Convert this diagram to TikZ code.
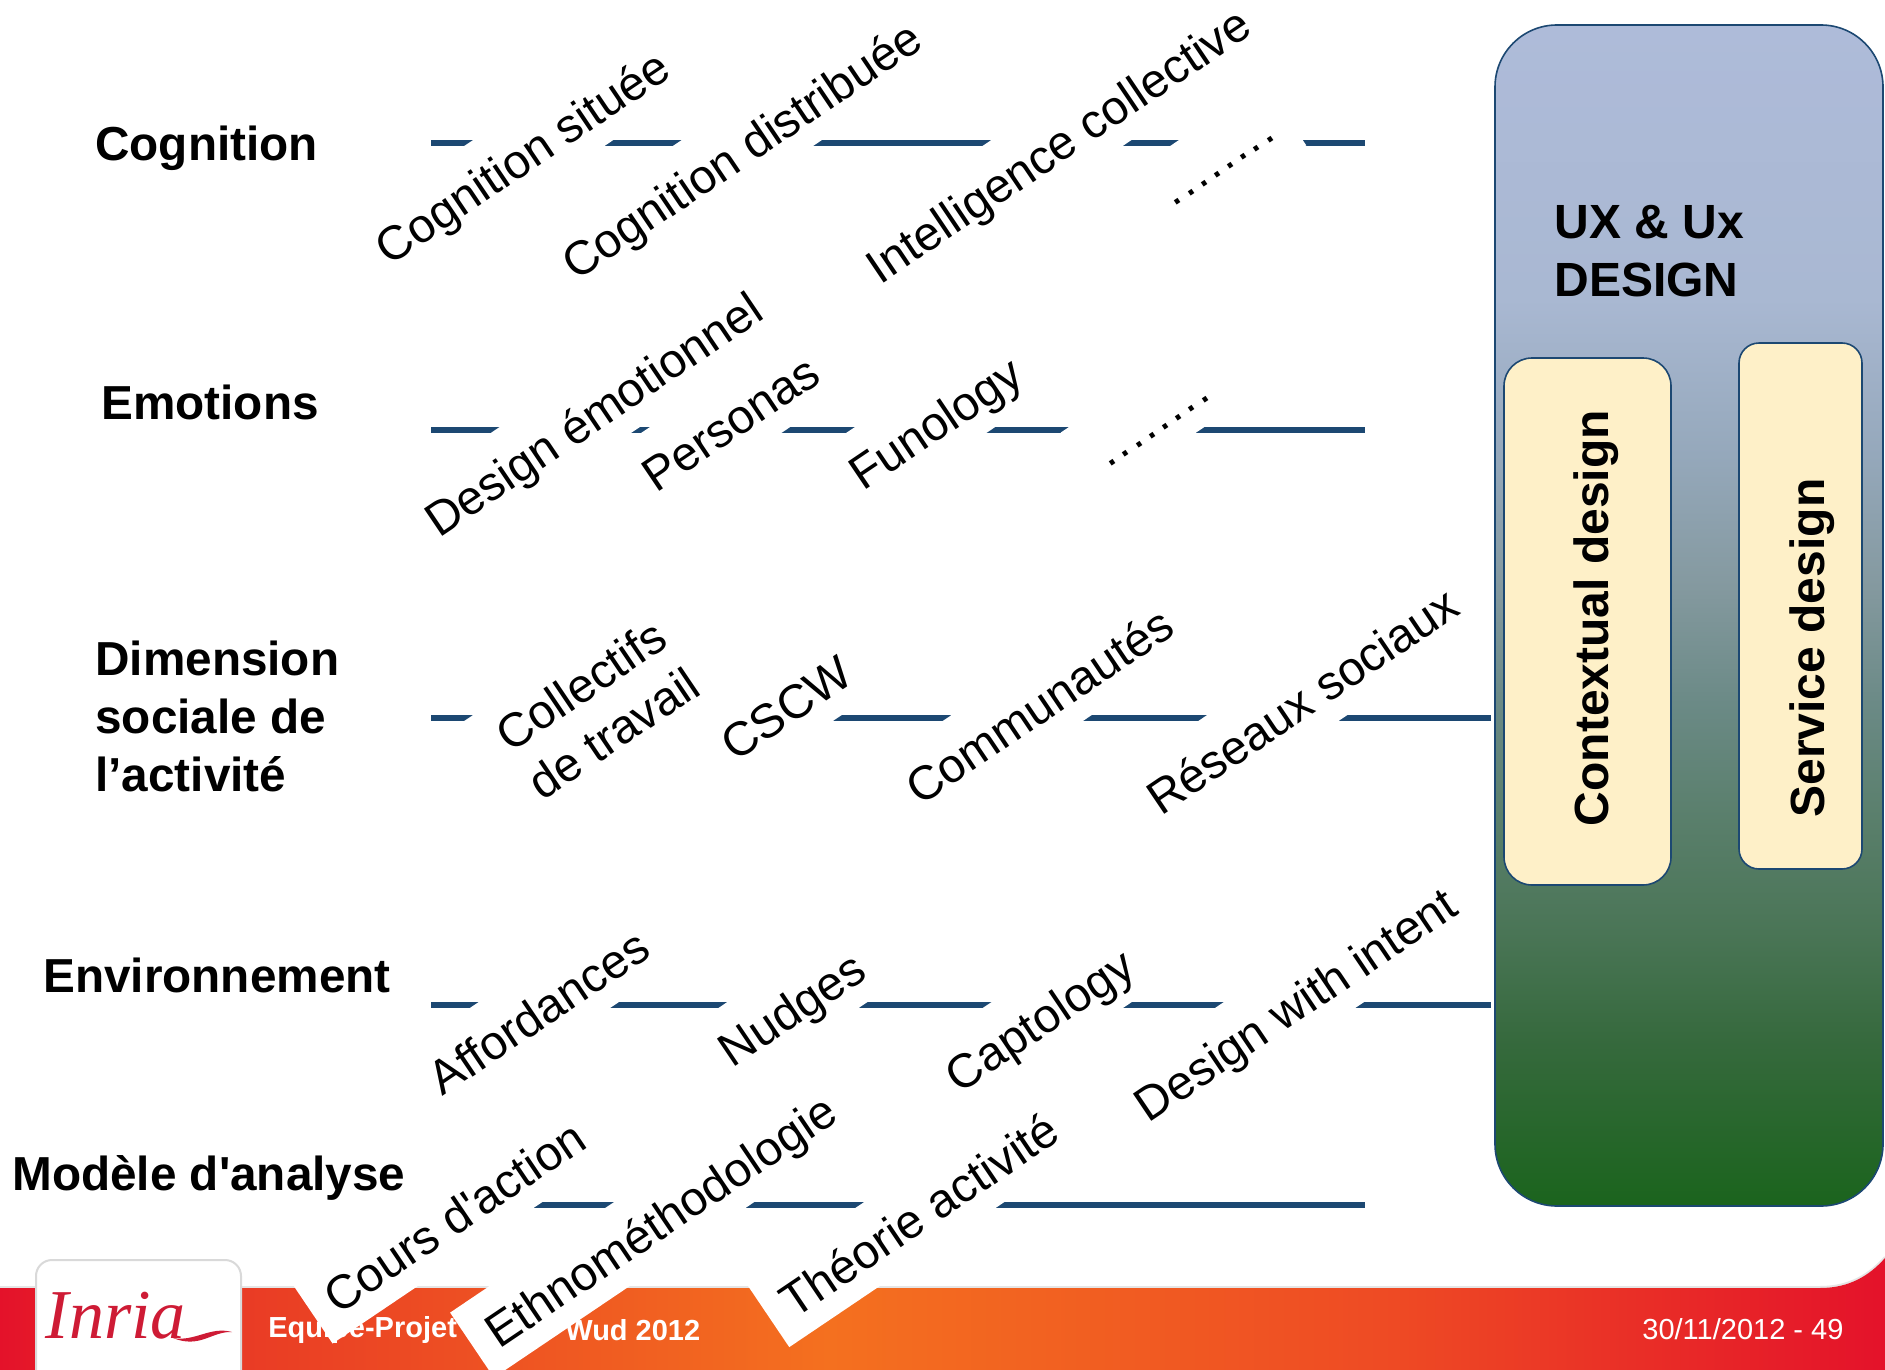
\documentclass[tikz,border=0pt]{standalone}
\usepackage{fontspec}
\setmainfont{Liberation Sans}
\newfontfamily\logofont{Liberation Serif}
\usetikzlibrary{shapes}
\definecolor{linecol}{HTML}{1C4872}
\definecolor{boxfill}{HTML}{FEF0C8}
\definecolor{logocol}{HTML}{CE1B35}
\definecolor{uxa}{HTML}{1B641D}
\definecolor{uxb}{HTML}{35693C}
\definecolor{uxc}{HTML}{4A7556}
\definecolor{uxd}{HTML}{5A7F6C}
\definecolor{uxe}{HTML}{6B8A86}
\definecolor{uxf}{HTML}{84999F}
\definecolor{uxg}{HTML}{95A8BB}
\definecolor{uxh}{HTML}{A9B8D2}
\definecolor{uxi}{HTML}{AEBBD9}
\definecolor{fta}{HTML}{E4122A}
\definecolor{ftb}{HTML}{E93A25}
\definecolor{ftc}{HTML}{F4701F}
\definecolor{ftd}{HTML}{EE4A24}
\pgfdeclareverticalshading{uxfade}{100bp}{color(0bp)=(uxa); color(25bp)=(uxa); color(31.8bp)=(uxb); color(36.6bp)=(uxc); color(41.5bp)=(uxd); color(46.3bp)=(uxe); color(51.2bp)=(uxf); color(56.8bp)=(uxg); color(63.4bp)=(uxh); color(75bp)=(uxi); color(100bp)=(uxi)}
\pgfdeclarehorizontalshading{footfade}{100bp}{color(0bp)=(fta); color(25bp)=(fta); color(31bp)=(ftb); color(47bp)=(ftc); color(62bp)=(ftd); color(75bp)=(fta); color(100bp)=(fta)}
\tikzset{rowline/.style={line width=3pt,linecol},
  titlelab/.style={anchor=west,inner sep=0pt,align=left,font=\fontsize{23.85}{29}\selectfont\bfseries},
  tagtwo/.style={fill=white,rotate=34,inner xsep=10pt,inner ysep=8.9pt,align=center,font=\fontsize{23.85}{29}\selectfont},
  tag/.style={tagtwo,inner ysep=2pt,text height=27.25pt,text depth=7.95pt},
  tagdots/.style={tagtwo,inner ysep=2pt,text height=24.5pt,text depth=9.3pt},
  inbox/.style={draw=linecol,line width=.8pt,fill=boxfill},
  sidelab/.style={rotate=90,inner sep=0pt,font=\fontsize{24}{29}\selectfont\bfseries},
  footlab/.style={anchor=west,inner sep=0pt,text=white,font=\fontsize{14.5}{17}\selectfont}}
\begin{document}
\begin{tikzpicture}[x=.5pt,y=-.5pt]
\useasboundingbox (0,0) rectangle (1885,1370);
\fill[white] (0,0) rectangle (1885,1370);
% bottom band
\draw[black!10,line width=1pt] (0,1287)--(1820,1287) .. controls (1850,1287) and (1870,1274) .. (1885,1257);
\shade[shading=footfade] (0,1288)--(1820,1288) .. controls (1850,1288) and (1870,1275) .. (1885,1258)--(1885,1370)--(0,1370)--cycle;
\filldraw[draw=black!15,line width=1pt,fill=white,rounded corners=8pt] (36,1370)--(36,1260)--(241,1260)--(241,1370);
\node[anchor=base,inner sep=0pt,text=logocol] (logo) at (116,1338) {\logofont\itshape\fontsize{35}{35}\selectfont Inria};
\fill[logocol] (173,1338) .. controls (195,1342) and (210,1326) .. (232,1332) .. controls (212,1331) and (200,1349) .. (173,1338)--cycle;
\node[footlab] (team) at (268,1330) {\bfseries Equipe-Projet};
\node[footlab] (wud) at (565,1330) {\bfseries Wud 2012};
\node[footlab] (date) at (1642,1329) {30/11/2012 - 49};
% right block
\path[draw=linecol,line width=.8pt,shading=uxfade,rounded corners=31pt] (1495,25) rectangle (1883,1206);
\node[anchor=north west,inner sep=0pt,align=left,font=\fontsize{24}{29}\selectfont\bfseries] (ux) at (1554,205) {UX \& Ux\\DESIGN};
\filldraw[inbox,rounded corners=14pt] (1504,358) rectangle (1671,885);
\filldraw[inbox,rounded corners=10pt] (1739,343) rectangle (1862,869);
\node[sidelab] (context) at (1596,618) {Contextual design};
\node[sidelab] (service) at (1812,648) {Service design};
% rows
\coordinate (cogs) at (431,143);
\coordinate (coge) at (1365,143);
\coordinate (emos) at (431,430);
\coordinate (emoe) at (1365,430);
\coordinate (dims) at (431,718);
\coordinate (dime) at (1491,718);
\coordinate (envs) at (431,1005);
\coordinate (enve) at (1491,1005);
\coordinate (mods) at (431,1205);
\coordinate (mode) at (1365,1205);
\draw[rowline] (cogs)--(coge);
\draw[rowline] (emos)--(emoe);
\draw[rowline] (dims)--(dime);
\draw[rowline] (envs)--(enve);
\draw[rowline] (mods)--(mode);
\node[titlelab] (cog) at (95,148) {Cognition};
\node[titlelab] (emo) at (101,402) {Emotions};
\node[titlelab] (dim) at (95,716) {Dimension\\sociale de\\l’activité};
\node[titlelab] (env) at (43,975) {Environnement};
\node[titlelab] (mod) at (12,1178) {Modèle d\textquotesingle analyse};
% tags
\node[tag] (t1) at (521,155) {Cognition située};
\node[tag] (t2) at (740,148) {Cognition distribuée};
\node[tag] (t3) at (1057,143) {Intelligence collective};
\node[tagdots] (t4) at (1217,160) {\addfontfeature{LetterSpace=5.5}........};
\node[tag] (t5) at (592,412) {Design émotionnel};
\node[tag] (t6) at (729,421) {Personas};
\node[tag] (t7) at (934,421) {Funology};
\node[tagdots,text height=26.2pt,text depth=7.65pt] (t8) at (1150,418) {\addfontfeature{LetterSpace=5.5}........};
\node[tagtwo] (t9) at (597,709) {Collectifs\\de travail};
\node[tag] (t10) at (785,706) {CSCW};
\node[tag] (t11) at (1038,704) {Communautés};
\node[tag] (t12) at (1301,699) {Réseaux sociaux};
\node[tag] (t13) at (537,1010) {Affordances};
\node[tag] (t14) at (790,1007) {Nudges};
\node[tag] (t15) at (1038,1018) {Captology};
\node[tag] (t16) at (1294,1002) {Design with intent};
\node[tag] (t17) at (453,1215) {Cours d\textquotesingle action};
\node[tag] (t18) at (659,1219) {Ethnométhodologie};
\node[tag] (t19) at (918,1213) {Théorie activité};
\end{tikzpicture}
\end{document}
